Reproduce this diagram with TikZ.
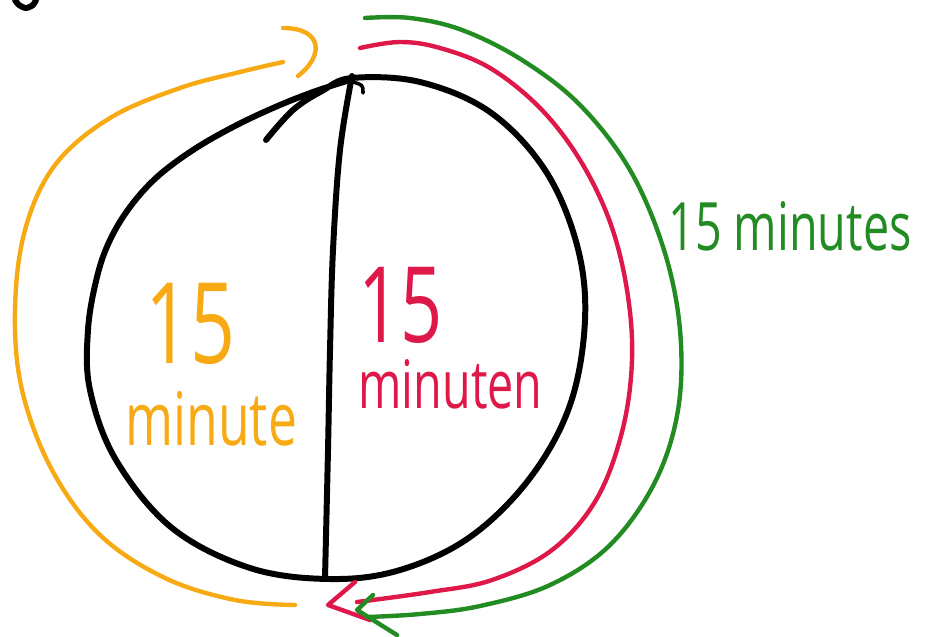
\documentclass[tikz,border=0pt]{standalone}
\usepackage{fontspec}
\newfontfamily\handfont{Open Sans}
\usepackage{xcolor}
\usepackage{tikz}

\definecolor{penorange}{RGB}{247,170,20}
\definecolor{penred}{RGB}{222,24,72}
\definecolor{pengreen}{RGB}{34,140,34}

% narrow handwriting look
\newcommand{\squeeze}[1]{\scalebox{0.7}[1]{#1}}

\begin{document}
\begin{tikzpicture}[x=0.02cm, y=-0.02cm, line cap=round, line join=round,
		ink/.style={line width=3.4pt, black},
		pen/.style={line width=2.5pt},
		hand/.style={font=\handfont\fontsize{#1}{#1}\selectfont, inner sep=0pt, anchor=base west}]
		
		\useasboundingbox (0,0) rectangle (942,636);
		
		% --- 1. Kreis und Trennlinie ---
		\coordinate (top) at (352,76);
		\coordinate (bot) at (325,578);
		\draw[ink] plot[smooth, tension=0.6] coordinates {
			(266,140) (293,110) (322,91) (352,78) (420,82) (490,112) (545,170) (577,245)
			(585,320) (570,405) (530,478) (470,537) (400,570) (330,579) (250,568)
			(172,528) (116,460) (90,390) (88,330) (97,277) (110,240) (130,207)
			(157,177) (193,150) (233,127) (273,108) (313,92) (350,80)};
		\draw[ink] plot[smooth, tension=0.6] coordinates {
			(top) (340,150) (333,250) (330,350) (328,450) (bot)};
		\draw[ink, line width=2pt] (353,82) .. controls (363,85) .. (363,93);
		% Rest oben links
		\draw[ink] plot[smooth] coordinates {(15,0) (19,5) (26,8) (33,5) (36,0)};
		
		% --- 2. Orange (linke Haelfte) ---
		\coordinate (oS) at (295,605);
		\coordinate (oE) at (283,62);
		\draw[pen, penorange] plot[smooth, tension=0.6] coordinates {
			(oS) (235,600) (165,578) (100,535) (52,470) (22,390) (15,310)
			(25,230) (55,165) (110,118) (180,88) (240,72) (oE)};
		\draw[pen, penorange] (283,28) .. controls (322,28) and (325,55) .. (298,76);
		\node[hand=64, penorange] (o15) at (145,363) {\squeeze{15}};
		\node[hand=42, penorange] (omin) at (125,445) {\squeeze{minute}};
		
		% --- 3. Rot (rechte Haelfte) ---
		\coordinate (rS) at (360,48);
		\coordinate (rE) at (357,602);
		\coordinate (rT) at (328,605);
		\draw[pen, penred] plot[smooth, tension=0.6] coordinates {
			(rS) (400,42) (440,48) (490,68) (540,108) (580,160) (610,222)
			(627,290) (632,360) (622,432) (596,500) (552,550) (492,580) (430,592) (rE)};
		\draw[pen, penred] (355,582) -- (rT) -- (370,620);
		\node[hand=60, penred] (r15) at (358,342) {\squeeze{15}};
		\node[hand=38, penred] (rmin) at (358,408) {\squeeze{minuten}};
		
		% --- 4. Gruen (ganzer Kreis) ---
		\coordinate (gS) at (365,18);
		\coordinate (gE) at (367,617);
		\coordinate (gT) at (357,610);
		\draw[pen, pengreen] plot[smooth, tension=0.6] coordinates {
			(gS) (410,18) (462,30) (522,60) (580,105) (630,170) (664,250)
			(680,330) (678,410) (655,482) (610,545) (550,585) (480,606) (420,614) (gE)};
		\draw[pen, pengreen] (373,595) -- (gT) -- (397,635);
		\node[hand=38, pengreen] (gmin) at (668,250) {\squeeze{15 minutes}};
		
	\end{tikzpicture}
\end{document}
